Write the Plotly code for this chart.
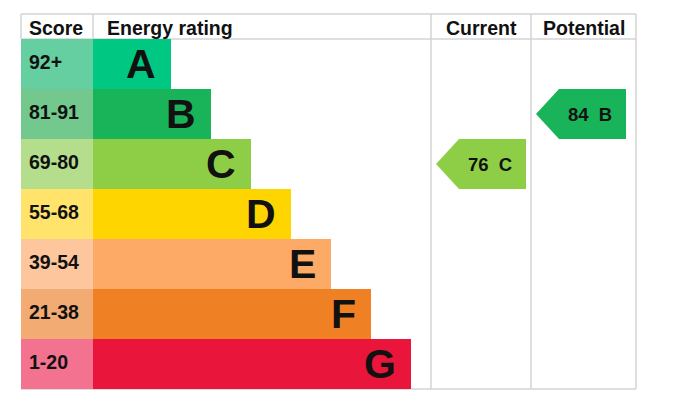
import plotly.graph_objects as go

# EPC rating bands
bands = ["A", "B", "C", "D", "E", "F", "G"]
score_labels = ["92+", "81-91", "69-80", "55-68", "39-54", "21-38", "1-20"]
band_floor = [92, 81, 69, 55, 39, 21, 1]
bar_colors = ["#00c781", "#19b459", "#8dce46", "#ffd500", "#fcaa65", "#ef8023", "#e9153b"]
score_colors = ["#66cfa2", "#73c98d", "#b4dd8c", "#ffe36b", "#fdc69c", "#f3ab74", "#f27290"]

current_score = 76
potential_score = 84

# layout (pixel units of the page, y pointing down)
W, H = 691, 401
OFF = 8  # page body margin
LEFT, SCORE_R, CUR_L, POT_L, RIGHT = 21, 93, 431, 531, 636
TOP, HEAD_B = 14, 39
ROW_H = 50
GRID = "#d3d3d3"
FONT = "Liberation Sans, Arial, sans-serif"

rows = [HEAD_B + ROW_H / 2 + ROW_H * i for i in range(len(bands))]
bar_len = [78 + 40 * i for i in range(len(bands))]
bottom = HEAD_B + ROW_H * len(bands)


def band_of(v):
    for i, lo in enumerate(band_floor):
        if v >= lo:
            return i
    return len(bands) - 1


fig = go.Figure()

# score cells
fig.add_trace(go.Bar(y=rows, x=[SCORE_R - LEFT] * len(bands), base=LEFT, orientation="h",
                     width=ROW_H, marker=dict(color=score_colors, line=dict(width=0)),
                     hoverinfo="skip", showlegend=False))
# rating bars
fig.add_trace(go.Bar(y=rows, x=bar_len, base=SCORE_R, orientation="h",
                     width=ROW_H, marker=dict(color=bar_colors, line=dict(width=0)),
                     hoverinfo="skip", showlegend=False))


def arrow(value, col_left):
    i = band_of(value)
    yc = rows[i]
    t, b = yc - ROW_H / 2, yc + ROW_H / 2
    tip = col_left + 5
    body = tip + 23
    r = col_left + 95
    fig.add_trace(go.Scatter(x=[tip, body, r, r, body, tip], y=[yc, t, t, b, b, yc],
                             mode="lines", fill="toself", fillcolor=bar_colors[i],
                             line=dict(width=0, color=bar_colors[i]),
                             hoverinfo="skip", showlegend=False))
    fig.add_annotation(x=(body + r) / 2 - 3, y=yc, text=f"{value}  {bands[i]}", showarrow=False,
                       xanchor="center", yanchor="middle",
                       font=dict(family=FONT, size=18.5, color="#111", weight="bold"))


arrow(current_score, CUR_L)
arrow(potential_score, POT_L)

# text in rows
for i in range(len(bands)):
    fig.add_annotation(x=LEFT + 6, y=rows[i] - 2, text=score_labels[i], showarrow=False,
                       xanchor="left", yanchor="middle",
                       font=dict(family=FONT, size=19.5, color="#111", weight="bold"))
    fig.add_annotation(x=SCORE_R + bar_len[i] - 13, y=rows[i], text=bands[i], showarrow=False,
                       xanchor="right", yanchor="middle",
                       font=dict(family=FONT, size=41, color="#111", weight="bold"))

# headers
headers = [("Score", LEFT + 6, "left"), ("Energy rating", SCORE_R + 12, "left"),
           ("Current", (CUR_L + POT_L) / 2, "center"), ("Potential", (POT_L + RIGHT) / 2, "center")]
for txt, x, anc in headers:
    fig.add_annotation(x=x, y=(TOP + HEAD_B) / 2 + 1, text=txt, showarrow=False,
                       xanchor=anc, yanchor="middle",
                       font=dict(family=FONT, size=19.5, color="#111", weight="bold"))

# grid lines
lines = [
    (LEFT, TOP, RIGHT, TOP), (LEFT, HEAD_B, RIGHT, HEAD_B), (LEFT, bottom, RIGHT, bottom),
    (LEFT, TOP, LEFT, HEAD_B), (SCORE_R, TOP, SCORE_R, HEAD_B),
    (CUR_L, TOP, CUR_L, bottom), (POT_L, TOP, POT_L, bottom), (RIGHT, TOP, RIGHT, bottom),
]
for x0, y0, x1, y1 in lines:
    fig.add_shape(type="line", x0=x0, y0=y0, x1=x1, y1=y1, line=dict(color=GRID, width=1.5),
                  layer="below")

fig.update_layout(width=W, height=H, margin=dict(l=0, r=0, t=0, b=0),
                  paper_bgcolor="white", plot_bgcolor="white", barmode="overlay")
fig.update_xaxes(range=[OFF, W + OFF], visible=False, fixedrange=True)
fig.update_yaxes(range=[H + OFF, OFF], visible=False, fixedrange=True)

fig.write_html("out.html")
